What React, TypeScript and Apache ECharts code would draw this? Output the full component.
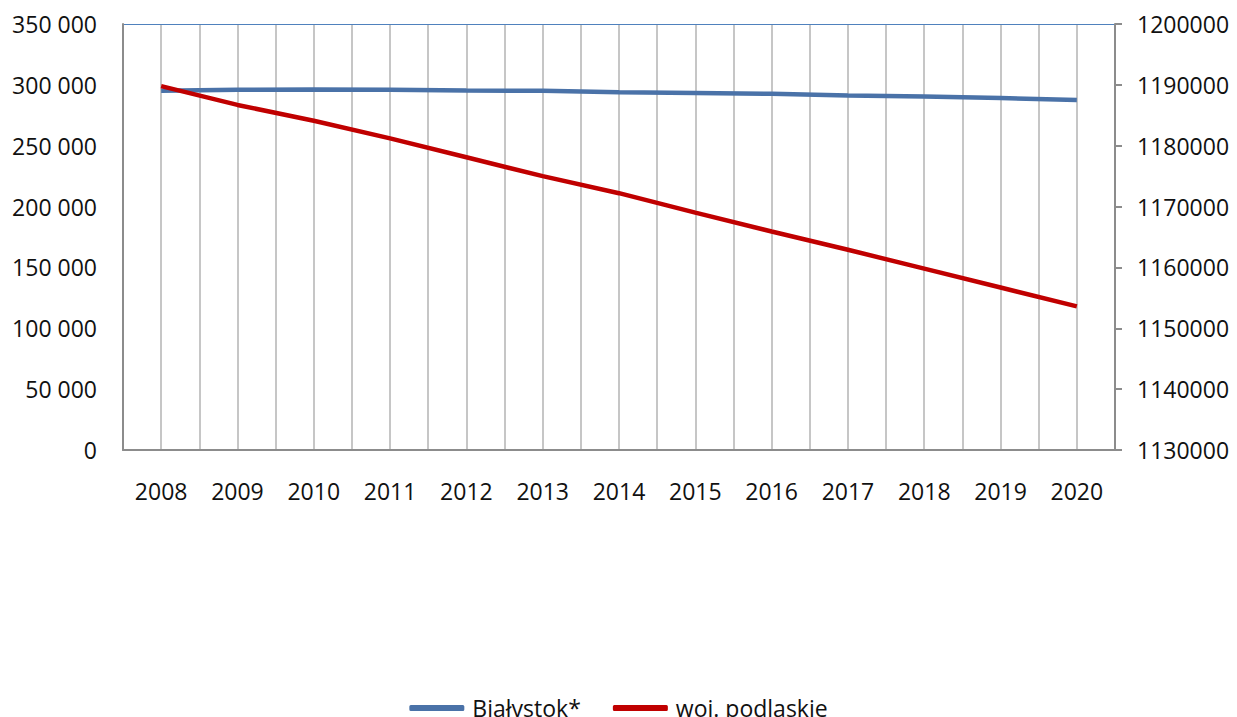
import React, { useEffect, useRef } from "react";
import * as echarts from "echarts";

const years = ["2008", "2009", "2010", "2011", "2012", "2013", "2014", "2015", "2016", "2017", "2018", "2019", "2020"];
const bialystok = [295100, 296000, 296100, 295900, 295400, 295100, 294000, 293400, 292600, 291300, 290400, 289100, 287600];
const podlaskie = [1189800, 1186700, 1184100, 1181200, 1178100, 1175000, 1172200, 1169000, 1165900, 1162900, 1159800, 1156700, 1153600];
const leftTicks = { min: 0, max: 350000, interval: 50000 };
const rightTicks = { min: 1130000, max: 1200000, interval: 10000 };

const FONT = "'Open Sans', 'DejaVu Sans', sans-serif";

if (typeof document !== "undefined") {
  document.body.style.margin = "0";
  document.body.style.overflow = "hidden";
}

export default function App() {
  const ref = useRef<HTMLDivElement>(null);
  useEffect(() => {
    if (!ref.current) return;
    const chart = echarts.init(ref.current, null, { renderer: "svg" });
    chart.setOption({
      animation: false,
      backgroundColor: "#ffffff",
      textStyle: { fontFamily: FONT },
      grid: { left: 123, right: 122, top: 24, bottom: 267, containLabel: false },
      legend: {
        data: ["Białystok*", "woj. podlaskie"],
        top: 690,
        left: "center",
        icon: "roundRect",
        itemWidth: 55,
        itemHeight: 6,
        itemGap: 32,
        textStyle: { fontFamily: FONT, fontSize: 23, color: "#111", lineHeight: 26, padding: [0, 0, 0, 3] },
      },
      xAxis: [
        {
          type: "category",
          data: years,
          boundaryGap: true,
          position: "bottom",
          axisLine: { show: true, lineStyle: { color: "#8c8c8c", width: 2 } },
          axisTick: { show: false },
          splitLine: { show: false },
          axisLabel: { fontFamily: FONT, fontSize: 23, color: "#111", margin: 29, interval: 0 },
          z: 3,
        },
        {
          type: "value",
          min: 0,
          max: years.length,
          interval: 0.5,
          position: "top",
          axisLine: { show: true, lineStyle: { color: "#4f81bd", width: 1 } },
          axisTick: { show: false },
          axisLabel: { show: false },
          splitLine: { show: true, lineStyle: { color: "#b8b8b8", width: 1.6 } },
        },
      ],
      yAxis: [
        {
          type: "value",
          min: leftTicks.min,
          max: leftTicks.max,
          interval: leftTicks.interval,
          position: "left",
          axisLine: { show: true, lineStyle: { color: "#8c8c8c", width: 2 } },
          axisTick: { show: false },
          splitLine: { show: false },
          axisLabel: {
            fontFamily: FONT,
            fontSize: 23,
            color: "#111",
            margin: 26,
            formatter: (v: number) => (v === 0 ? "0" : `${Math.round(v / 1000)} 000`),
          },
          z: 3,
        },
        {
          type: "value",
          min: rightTicks.min,
          max: rightTicks.max,
          interval: rightTicks.interval,
          position: "right",
          axisLine: { show: true, lineStyle: { color: "#8c8c8c", width: 2 } },
          axisTick: { show: true, length: 7, lineStyle: { color: "#8c8c8c", width: 2 } },
          splitLine: { show: false },
          axisLabel: {
            fontFamily: FONT,
            fontSize: 23,
            color: "#111",
            margin: 22,
            formatter: (v: number) => String(v),
          },
          z: 3,
        },
      ],
      series: [
        {
          name: "Białystok*",
          type: "line",
          xAxisIndex: 0,
          yAxisIndex: 0,
          data: bialystok,
          symbol: "none",
          lineStyle: { color: "#4a72a8", width: 4.5 },
          itemStyle: { color: "#4a72a8" },
          z: 5,
        },
        {
          name: "woj. podlaskie",
          type: "line",
          xAxisIndex: 0,
          yAxisIndex: 1,
          data: podlaskie,
          symbol: "none",
          lineStyle: { color: "#c00000", width: 4.5 },
          itemStyle: { color: "#c00000" },
          z: 6,
        },
      ],
    });
    return () => chart.dispose();
  }, []);
  return <div ref={ref} style={{ width: 1237, height: 717 }} />;
}
